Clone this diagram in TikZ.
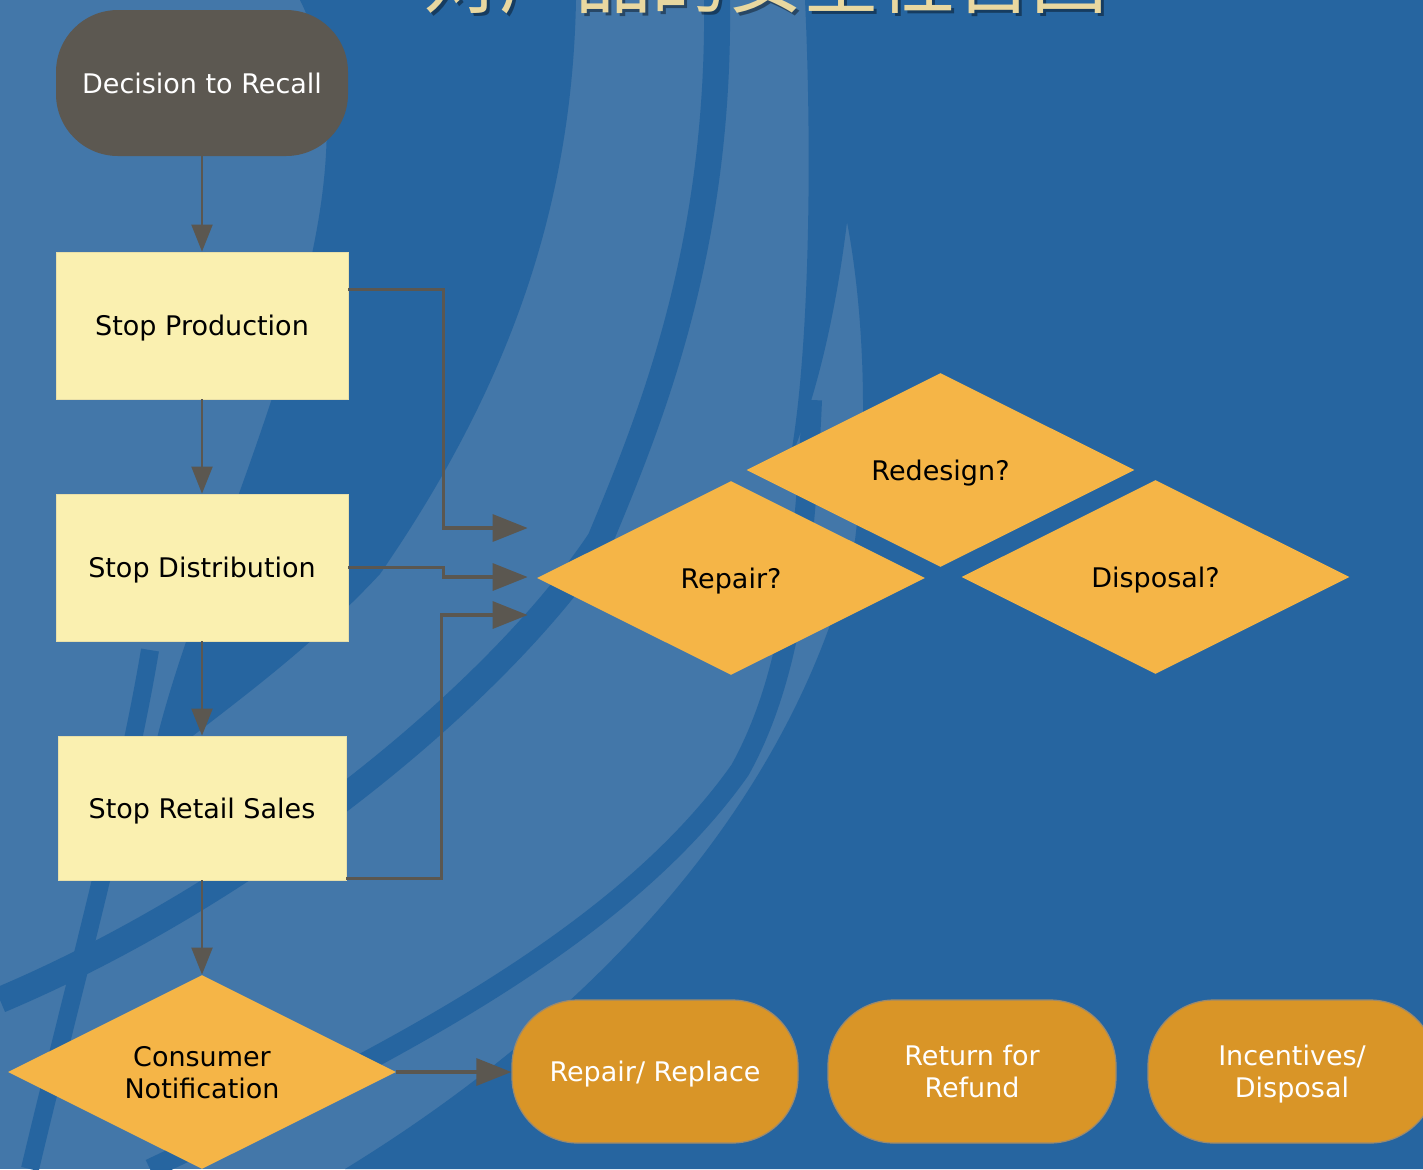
\documentclass[tikz,border=0pt]{standalone}
\usepackage{fontspec}
\setmainfont{DejaVu Sans}
\newfontfamily\cjk{Noto Sans CJK SC}
\usetikzlibrary{shapes.geometric,arrows.meta,calc}
\definecolor{bgblue}{HTML}{2665A0}
\definecolor{lightblue}{HTML}{4377A9}
\definecolor{boxfill}{HTML}{FAF0B0}
\definecolor{darknode}{HTML}{5C5851}
\definecolor{diafill}{HTML}{F5B547}
\definecolor{termfill}{HTML}{D99527}
\definecolor{termedge}{HTML}{9A8A70}
\definecolor{linegray}{HTML}{5B5750}
\definecolor{titlegold}{HTML}{E9D8A0}
\begin{document}
\begin{tikzpicture}[x=0.5pt,y=-0.5pt,
  every node/.style={font=\fontsize{13.5}{16}\selectfont, align=center, inner sep=0pt, text depth=0pt},
  boxnode/.style={rectangle, fill=boxfill, draw=boxfill!85!gray, line width=0.4pt, minimum width=146pt, minimum height=73.5pt},
  startnode/.style={rectangle, rounded corners=31pt, fill=darknode, text=white, minimum width=146pt, minimum height=73pt},
  decision/.style={diamond, aspect=2, fill=diafill, minimum width=194pt, minimum height=97pt},
  endnode/.style={rectangle, rounded corners=33pt, fill=termfill, draw=termedge, line width=0.6pt, text=white, minimum width=143pt, minimum height=71.5pt},
  flow/.style={draw=linegray, line width=1.1pt, -{Triangle[length=13.5pt,width=10.5pt]}},
  feed/.style={draw=linegray, line width=1.6pt, -{Triangle[length=17.5pt,width=13.5pt]}},
  titletext/.style={font=\cjk\fontsize{38}{38}\selectfont, anchor=base}
]
\useasboundingbox (0,0) rectangle (1423,1169);
\clip (0,0) rectangle (1423,1169);
% background
\fill[lightblue] (0,0) rectangle (1423,1169);
\fill[bgblue] (300,0) -- (576,0) .. controls (572,220) and (500,400) .. (380,574)
  .. controls (300,660) and (210,720) .. (150,770)
  .. controls (190,560) and (400,200) .. (300,0) -- cycle;
\fill[bgblue] (805,0) -- (1423,0) -- (1423,1169) -- (345,1169)
  .. controls (620,1000) and (800,780) .. (855,540)
  .. controls (870,420) and (862,300) .. (847,222)
  .. controls (835,320) and (815,400) .. (790,460)
  .. controls (810,350) and (812,150) .. (805,0) -- cycle;
\draw[bgblue, line width=13pt] (717,0) .. controls (720,250) and (650,420) .. (600,540)
  .. controls (500,690) and (260,890) .. (0,1000);
\draw[bgblue, line width=10pt] (812,400) .. controls (805,560) and (790,680) .. (740,770)
  .. controls (620,940) and (380,1060) .. (150,1169);
\draw[bgblue, line width=9pt] (150,650) .. controls (125,800) and (70,1000) .. (30,1169);
% title
\node[titletext, text=black, opacity=0.4] (titleshadow) at (768,10) {对产品的安全性召回};
\node[titletext, text=titlegold] (title) at (765,7) {对产品的安全性召回};
% nodes
\node[startnode] (dec) at (202,83) {Decision to Recall};
\node[boxnode] (sp) at (202,325.5) {Stop Production};
\node[boxnode] (sd) at (202,567.5) {Stop Distribution};
\node[boxnode, minimum width=144pt, minimum height=72pt] (srs) at (202,808) {Stop Retail Sales};
\node[decision] (cn) at (202,1072) {Consumer\\Notification};
\node[decision] (repair) at (731,578) {Repair?};
\node[decision] (redesign) at (940.5,470) {Redesign?};
\node[decision] (disposal) at (1155.5,577) {Disposal?};
\node[endnode] (rr) at (655,1071.5) {Repair/ Replace};
\node[endnode, minimum width=144pt] (rf) at (972,1071.5) {Return for\\Refund};
\node[endnode, minimum width=144pt] (inc) at (1292,1071.5) {Incentives/\\Disposal};
% connectors
\draw[flow] (dec.south) -- (sp.north);
\draw[flow] (sp.south) -- (sd.north);
\draw[flow] (sd.south) -- (srs.north);
\draw[flow] (srs.south) -- (cn.north);
\coordinate (inA) at ($(repair.west)+(-9,-50)$);
\coordinate (inB) at ($(repair.west)+(-9,-1)$);
\coordinate (inC) at ($(repair.west)+(-9,37)$);
\draw[feed] ($(sp.east)+(0,-36)$) -- ++(95,0) |- (inA);
\draw[feed] (sd.east) -- ++(95,0) |- (inB);
\draw[feed] ($(srs.south east)+(0,-2)$) -- ++(95,0) |- (inC);
\draw[feed] (cn.east) -- (cn.east -| rr.west);
\end{tikzpicture}
\end{document}
